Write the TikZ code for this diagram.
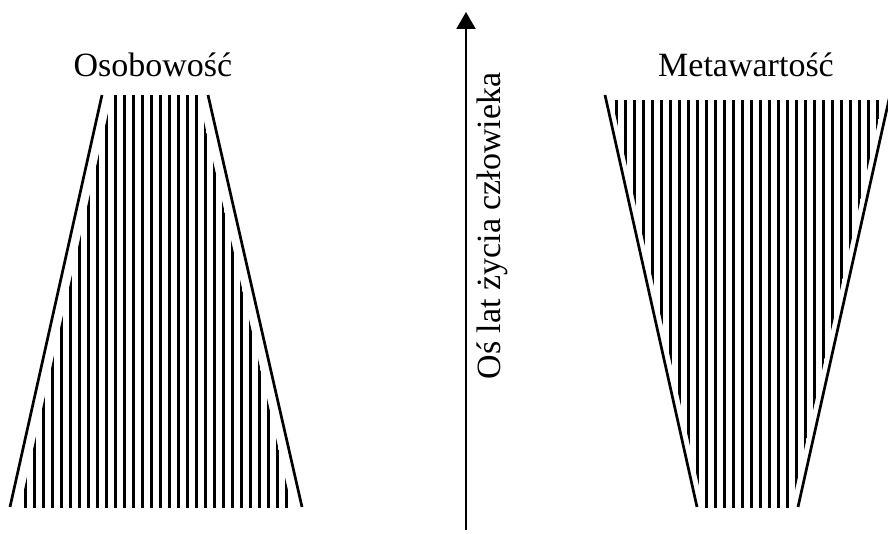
\documentclass[tikz,border=0pt]{standalone}
\usepackage{fontspec}
\setmainfont{Liberation Serif}
\usetikzlibrary{arrows.meta}
\begin{document}
\begin{tikzpicture}[x=1pt,y=1pt,
  edge/.style={line width=2.7pt,line cap=butt},
  hatch/.style={line width=2.4pt},
  title/.style={font=\fontsize{34}{40}\selectfont,inner sep=0pt,anchor=base},
  axis/.style={line width=2.2pt,-{Triangle[length=17pt,width=19pt]}}]
\useasboundingbox (0,0) rectangle (888,534);
% left trapezoid (Osobowosc)
\coordinate (LTL) at (102,439);
\coordinate (LBL) at (10,27);
\coordinate (LTR) at (208,439);
\coordinate (LBR) at (302,27);
\begin{scope}
  \clip (112,439) -- (20,26) -- (292,26) -- (198,439) -- cycle;
  \foreach \k in {0,...,29}{
    \draw[hatch] ({25.5+9*\k},26) -- ({25.5+9*\k},439);
  }
\end{scope}
\draw[edge] (LTL) -- (LBL);
\draw[edge] (LTR) -- (LBR);
% right trapezoid (Metawartosc)
\coordinate (RTL) at (605,439);
\coordinate (RBL) at (697,27);
\coordinate (RTR) at (890,439);
\coordinate (RBR) at (798,27);
\begin{scope}
  \clip (612,434) -- (704,26) -- (791,26) -- (883,434) -- cycle;
  \foreach \k in {-10,...,20}{
    \draw[hatch] ({706.5+9*\k},26) -- ({706.5+9*\k},434);
  }
\end{scope}
\draw[edge] (RTL) -- (RBL);
\draw[edge] (RTR) -- (RBR);
% titles
\node[title] (osob) at (153,457) {Osobowość};
\node[title] (meta) at (746,457) {Metawartość};
% axis
\coordinate (axB) at (466,4);
\coordinate (axT) at (466,522);
\draw[axis] (axB) -- (axT);
\node[title,rotate=90] (axl) at (500,308) {Oś lat życia człowieka};
\end{tikzpicture}
\end{document}
